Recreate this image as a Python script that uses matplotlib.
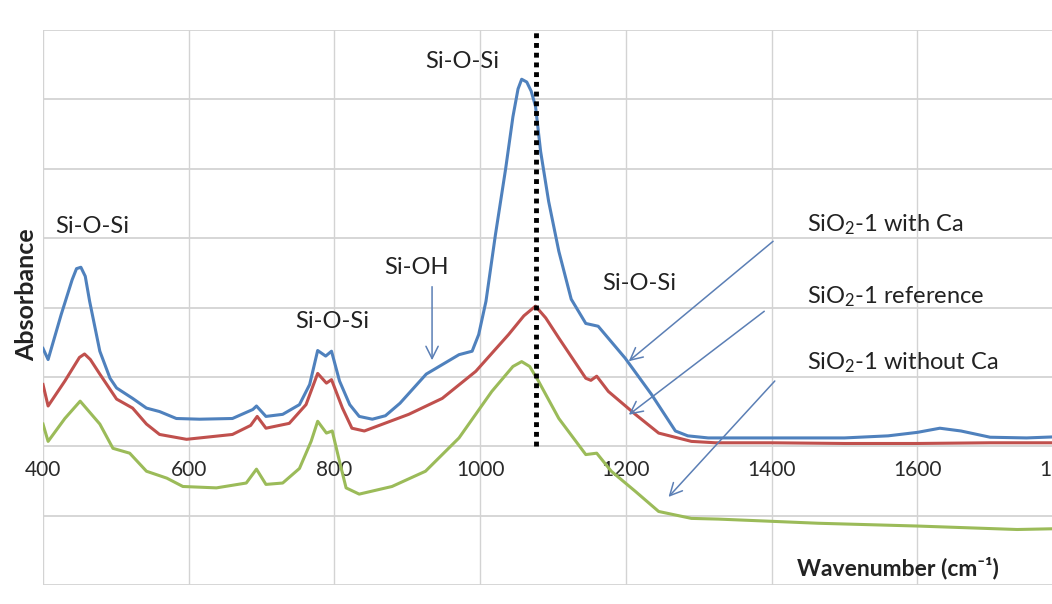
import matplotlib
matplotlib.use("Agg")
import matplotlib.pyplot as plt

plt.rcParams['font.family'] = ['Lato', 'DejaVu Sans']
plt.rcParams['mathtext.default'] = 'regular'

# ---- data ----
wn_with_ca = [400, 407, 425, 440, 446, 452, 458, 464, 478, 492, 501, 523, 542, 560, 583, 615, 660,
              688, 693, 706, 729, 752, 766, 777, 788, 796, 807, 821, 834, 852, 870, 890, 926, 971,
              989, 998, 1008, 1021, 1035, 1045, 1052, 1057, 1064, 1070, 1076, 1083, 1094, 1108,
              1125, 1145, 1162, 1199, 1235, 1268, 1285, 1313, 1400, 1500, 1560, 1600, 1631, 1660,
              1700, 1750, 1800, 1830]
abs_with_ca = [1.41, 1.25, 1.90, 2.40, 2.56, 2.58, 2.45, 2.09, 1.37, 0.98, 0.84, 0.69, 0.55, 0.50,
               0.40, 0.39, 0.40, 0.53, 0.58, 0.43, 0.46, 0.60, 0.89, 1.38, 1.30, 1.37, 0.94, 0.60,
               0.43, 0.39, 0.44, 0.62, 1.04, 1.32, 1.37, 1.61, 2.09, 3.05, 4.00, 4.75, 5.15, 5.29,
               5.25, 5.12, 4.90, 4.25, 3.53, 2.81, 2.12, 1.77, 1.73, 1.27, 0.75, 0.22, 0.15, 0.12,
               0.12, 0.12, 0.15, 0.20, 0.26, 0.22, 0.13, 0.12, 0.14, 0.14]

wn_reference = [400, 407, 430, 450, 457, 465, 478, 501, 523, 542, 560, 597, 660, 685, 694, 706, 738,
                761, 777, 789, 796, 811, 824, 841, 902, 948, 994, 1039, 1060, 1076, 1090, 1108, 1145,
                1152, 1160, 1176, 1213, 1245, 1290, 1323, 1400, 1500, 1600, 1700, 1830]
abs_reference = [0.89, 0.58, 0.94, 1.28, 1.33, 1.25, 1.04, 0.68, 0.55, 0.32, 0.17, 0.10, 0.17, 0.30,
                 0.43, 0.26, 0.33, 0.60, 1.05, 0.91, 0.96, 0.55, 0.26, 0.22, 0.46, 0.69, 1.08, 1.61,
                 1.88, 2.02, 1.85, 1.56, 0.98, 0.95, 1.01, 0.79, 0.46, 0.19, 0.07, 0.05, 0.05, 0.04,
                 0.04, 0.05, 0.05]

wn_without_ca = [400, 407, 430, 451, 478, 496, 519, 542, 570, 592, 638, 679, 693, 706, 729, 752, 768,
                 777, 789, 797, 807, 816, 834, 879, 925, 971, 1016, 1045, 1057, 1068, 1080, 1108,
                 1145, 1160, 1180, 1213, 1245, 1290, 1327, 1464, 1600, 1737, 1830]
abs_without_ca = [0.32, 0.07, 0.40, 0.65, 0.32, -0.03, -0.10, -0.36, -0.46, -0.58, -0.60, -0.53,
                  -0.33, -0.55, -0.53, -0.32, 0.07, 0.36, 0.19, 0.22, -0.22, -0.60, -0.69, -0.58,
                  -0.36, 0.12, 0.79, 1.15, 1.22, 1.15, 0.94, 0.40, -0.12, -0.10, -0.36, -0.65,
                  -0.94, -1.04, -1.05, -1.11, -1.15, -1.20, -1.18]

x_ticks = [400, 600, 800, 1000, 1200, 1400, 1600, 1800]
series_names = [r'SiO$_2$-1 with Ca', r'SiO$_2$-1 reference', r'SiO$_2$-1 without Ca']
marker_wn = 1077

# ---- figure ----
fig = plt.figure(figsize=(10.52, 6.04), dpi=100)
left = 43 / 1052
bottom = (604 - 585) / 604
height = (585 - 30) / 604
width = (1063 - 43) / 1052 * (2000 - 400) / 1400
ax = fig.add_axes([left, bottom, width, height])
ax.set_xlim(400, 2000)
ax.set_ylim(-2, 6)

grid_c = '#d3d3d3'
for v in range(-2, 7):
    ax.axhline(v, color=grid_c, lw=1.3, zorder=0)
for t in x_ticks:
    ax.axvline(t, color=grid_c, lw=1.0, zorder=0)
for s in ax.spines.values():
    s.set_visible(False)
ax.set_yticks([])
ax.set_xticks([])
for t in x_ticks:
    ax.text(t, -0.34, str(t), ha='center', va='center', fontsize=15, color='#2a2a2a')

ax.plot(wn_with_ca, abs_with_ca, color='#4F81BD', lw=2.2, zorder=3, solid_joinstyle='round')
ax.plot(wn_reference, abs_reference, color='#C0504D', lw=2.2, zorder=3, solid_joinstyle='round')
ax.plot(wn_without_ca, abs_without_ca, color='#9BBB59', lw=2.2, zorder=3, solid_joinstyle='round')

ax.plot([marker_wn, marker_wn], [0, 6], color='black', lw=3.5,
        linestyle=(0, (1, 1)), zorder=4)

tc = '#222222'
fs = 17
ax.text(468, 3.17, 'Si-O-Si', ha='center', va='center', fontsize=fs, color=tc)
ax.text(797, 1.80, 'Si-O-Si', ha='center', va='center', fontsize=fs, color=tc)
ax.text(912, 2.57, 'Si-OH', ha='center', va='center', fontsize=fs, color=tc)
ax.text(975, 5.55, 'Si-O-Si', ha='center', va='center', fontsize=fs, color=tc)
ax.text(1219, 2.35, 'Si-O-Si', ha='center', va='center', fontsize=fs, color=tc)

ax.text(1448, 3.19, series_names[0], ha='left', va='center', fontsize=fs, color=tc)
ax.text(1448, 2.15, series_names[1], ha='left', va='center', fontsize=fs, color=tc)
ax.text(1448, 1.20, series_names[2], ha='left', va='center', fontsize=fs, color=tc)

ac = '#5b7fb5'
arrow = dict(arrowstyle='->', color=ac, lw=1.1, mutation_scale=22)
ax.annotate('', xy=(934, 1.20), xytext=(934, 2.34), arrowprops=arrow, zorder=5)
ax.annotate('', xy=(1201, 1.20), xytext=(1405, 2.98), arrowprops=arrow, zorder=5)
ax.annotate('', xy=(1201, 0.43), xytext=(1393, 1.97), arrowprops=arrow, zorder=5)
ax.annotate('', xy=(1256, -0.76), xytext=(1407, 0.97), arrowprops=arrow, zorder=5)

fig.text(898 / 1052, 1 - 568 / 604, 'Wavenumber (cm⁻¹)', ha='center', va='center',
         fontsize=16.5, fontweight='bold', color='#222222')
fig.text(27 / 1052, 1 - 295 / 604, 'Absorbance', ha='center', va='center', rotation=90,
         fontsize=18, fontweight='bold', color='#222222')

fig.savefig('out.png', dpi=100, facecolor='white')
